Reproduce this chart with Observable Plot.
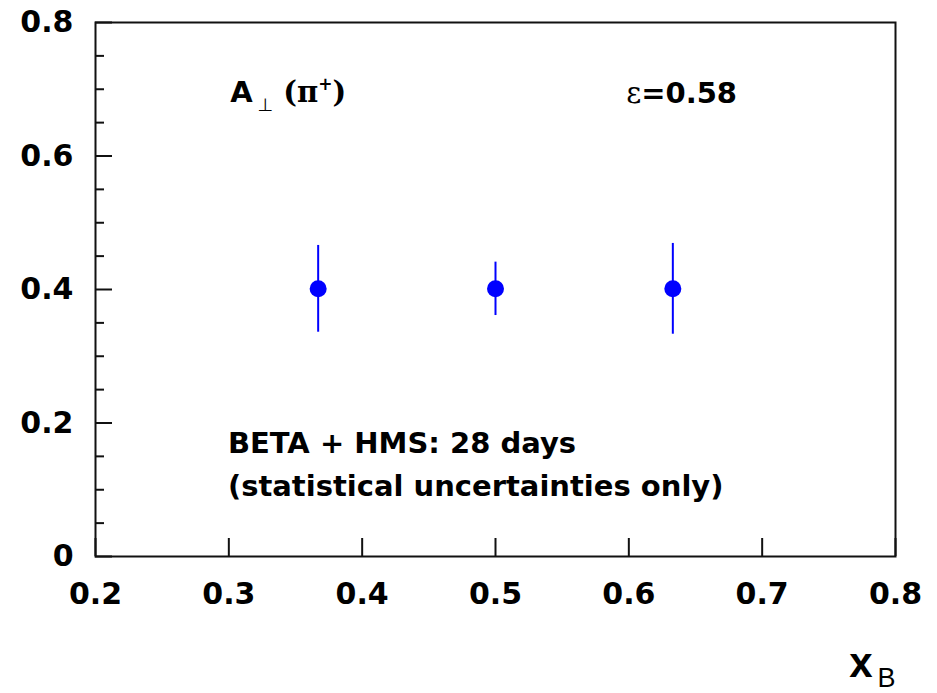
<!DOCTYPE html>
<html><head><meta charset="utf-8">
<script src="https://cdn.jsdelivr.net/npm/d3@7"></script>
<script src="https://cdn.jsdelivr.net/npm/@observablehq/plot@0.6"></script>
<style>html,body{margin:0;padding:0;background:#fff} svg{display:block}</style>
</head><body><div id="chart"></div>
<script>
// ---- data ----
const xBValues = [0.367, 0.500, 0.633];
const asymValues = [0.401, 0.401, 0.401];
const statErrors = [0.065, 0.040, 0.068];

// ---- axes ----
const xTicks = [0.2, 0.3, 0.4, 0.5, 0.6, 0.7, 0.8];
const xTickLabels = ["0.2", "0.3", "0.4", "0.5", "0.6", "0.7", "0.8"];
const yMajorTicks = [0, 0.2, 0.4, 0.6, 0.8];
const yTickLabels = ["0", "0.2", "0.4", "0.6", "0.8"];
const yMinorTicks = [0.05, 0.1, 0.15, 0.25, 0.3, 0.35, 0.45, 0.5, 0.55, 0.65, 0.7, 0.75];

// ---- annotations (anchored in data coordinates) ----
const noteKeys = ["aperp", "eps", "beta", "stat", "xlabel"];
const noteTexts = ["A⊥ (π+)", "ε=0.58", "BETA + HMS: 28 days", "(statistical uncertainties only)", "xB"];
const noteX = [0.301, 0.598, 0.2993, 0.2993, 0.8];
const noteY = [0.681, 0.680, 0.155, 0.0905, -0.181];

const points = xBValues.map((x, i) => ({x, y: asymValues[i], lo: asymValues[i] - statErrors[i], hi: asymValues[i] + statErrors[i]}));
const notes = noteKeys.map((k, i) => ({key: k, text: noteTexts[i], x: noteX[i], y: noteY[i]}));

const SANS = "DejaVu Sans";
const W = 937, H = 693, ML = 95, MR = 42, MT = 22, MB = 137;
const innerW = W - ML - MR, innerH = H - MT - MB;

const noteMark = (key, opts) => Plot.text(notes.filter(d => d.key === key), {
  x: "x", y: "y", text: "text", fill: "black", ...opts
});

const plot = Plot.plot({
  width: W, height: H,
  marginLeft: ML, marginRight: MR, marginTop: MT, marginBottom: MB,
  style: {background: "white", color: "black", overflow: "visible"},
  x: {domain: [0.2, 0.8]},
  y: {domain: [0, 0.8]},
  marks: [
    Plot.frame({stroke: "#111", strokeWidth: 2}),
    // inward ticks
    Plot.tickY(yMajorTicks, {y: d => d, stroke: "#111", strokeWidth: 2, insetRight: innerW - 17}),
    Plot.tickY(yMinorTicks, {y: d => d, stroke: "#111", strokeWidth: 2, insetRight: innerW - 9}),
    Plot.tickX(xTicks, {x: d => d, stroke: "#111", strokeWidth: 2, insetTop: innerH - 18}),
    // tick labels
    Plot.axisY(yMajorTicks, {tickSize: 0, tickPadding: 22, label: null, fontSize: 30, fontWeight: "bold", fontFamily: SANS,
      tickFormat: d => yTickLabels[yMajorTicks.indexOf(d)]}),
    Plot.axisX(xTicks, {tickSize: 0, tickPadding: 26, label: null, fontSize: 30, fontWeight: "bold", fontFamily: SANS,
      tickFormat: d => xTickLabels[xTicks.indexOf(d)]}),
    // error bars and points
    Plot.ruleX(points, {x: "x", y1: "lo", y2: "hi", stroke: "#0000ff", strokeWidth: 2}),
    Plot.dot(points, {x: "x", y: "y", r: 8.5, fill: "#0000ff", stroke: "none"}),
    // annotations
    noteMark("aperp", {textAnchor: "start", fontSize: 29, fontWeight: "bold", fontFamily: SANS}),
    noteMark("eps", {textAnchor: "start", fontSize: 29, fontWeight: "bold", fontFamily: SANS}),
    noteMark("beta", {textAnchor: "start", fontSize: 29, fontWeight: "bold", fontFamily: SANS}),
    noteMark("stat", {textAnchor: "start", fontSize: 29, fontWeight: "bold", fontFamily: SANS}),
    noteMark("xlabel", {textAnchor: "end", fontSize: 42, fontWeight: "bold", fontFamily: "Liberation Sans"})
  ]
});

// find an annotation's text element by its content
function noteEl(key) {
  const txt = noteTexts[noteKeys.indexOf(key)];
  const el = Array.from(plot.querySelectorAll("text")).find(t => t.textContent === txt);
  return el ? d3.select(el) : null;
}
// Rich text (sub/superscripts, symbol fonts), baseline at the anchor
function rich(key, parts) {
  const sel = noteEl(key);
  if (!sel) return;
  sel.attr("y", null).attr("dy", null);
  if (!parts) return;
  sel.text(null);
  for (const p of parts) {
    const ts = sel.append("tspan").text(p.t);
    for (const [k, v] of Object.entries(p)) if (k !== "t") ts.attr(k, v);
  }
}
rich("beta");
rich("stat");
rich("aperp", [
  {t: "A"},
  {t: "⊥", "font-size": 18, "font-weight": "normal", dx: 5, dy: 9},
  {t: "(", dx: 10, dy: -9, "font-family": "DejaVu Serif"},
  {t: "π", "font-family": "DejaVu Serif"},
  {t: "+", "font-size": 17, dy: -12},
  {t: ")", dy: 12, "font-family": "DejaVu Serif"}
]);
rich("eps", [
  {t: "ε", "font-weight": "normal", "font-family": "DejaVu Serif"},
  {t: "=0.58"}
]);
rich("xlabel", [
  {t: "x"},
  {t: "B", "font-size": 27, "font-weight": "normal", dx: 5, dy: 10}
]);

document.getElementById("chart").appendChild(plot);
</script>
</body></html>
